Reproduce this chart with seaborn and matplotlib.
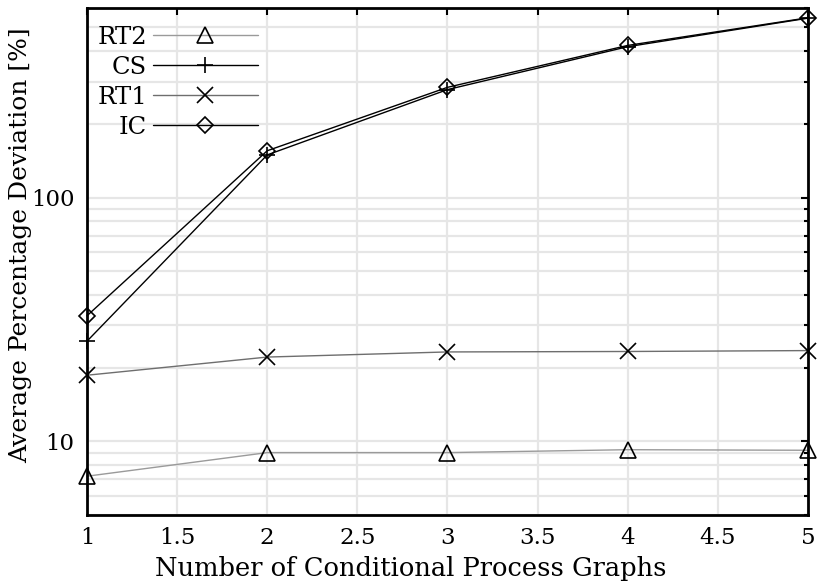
import matplotlib
matplotlib.use("Agg")
import matplotlib.pyplot as plt
import matplotlib.ticker as mticker
import seaborn as sns
import pandas as pd

# values
graphs = [1, 2, 3, 4, 5]
rt2 = [7.2, 9.0, 9.0, 9.25, 9.2]
cs = [25.8, 150, 278, 417, 546]
rt1 = [18.7, 22.2, 23.3, 23.4, 23.6]
ic = [32.8, 156, 284, 422, 548]

series = {"RT2": rt2, "CS": cs, "RT1": rt1, "IC": ic}
styles = {
    "RT2": dict(color="#9a9a9a", marker="^", ms=11),
    "CS": dict(color="black", marker="+", ms=12),
    "RT1": dict(color="#6e6e6e", marker="x", ms=11),
    "IC": dict(color="black", marker="D", ms=8.5),
}

sns.set_style("white")
plt.rcParams["font.family"] = ["DejaVu Serif"]
plt.rcParams["text.color"] = "black"
plt.rcParams["axes.labelcolor"] = "black"

fig = plt.figure(figsize=(8.21, 5.85), dpi=100)
ax = fig.add_axes([0.106, 0.12, 0.878, 0.866])

handles = []
for name, vals in series.items():
    df = pd.DataFrame({"x": graphs, "y": vals})
    st = styles[name]
    sns.lineplot(data=df, x="x", y="y", ax=ax, color=st["color"], lw=1.0,
                 marker=st["marker"], markersize=st["ms"], markerfacecolor="none",
                 markeredgecolor="black", markeredgewidth=1.2, clip_on=False)
    handles.append(ax.lines[-1])

ax.set_yscale("log")
ax.set_xlim(1, 5)
ax.set_ylim(5, 600)
ax.xaxis.set_major_locator(mticker.MultipleLocator(0.5))
ax.xaxis.set_major_formatter(mticker.FormatStrFormatter("%g"))
ax.yaxis.set_major_locator(mticker.LogLocator(base=10))
ax.yaxis.set_major_formatter(mticker.FuncFormatter(lambda v, p: "%d" % v))
ax.yaxis.set_minor_locator(mticker.LogLocator(base=10, subs=range(2, 10)))
ax.yaxis.set_minor_formatter(mticker.NullFormatter())

ax.grid(True, which="major", color="#e6e6e6", lw=1.6)
ax.grid(True, which="minor", axis="y", color="#e6e6e6", lw=1.6)
ax.set_axisbelow(True)

for sp in ax.spines.values():
    sp.set_color("black")
    sp.set_linewidth(2)
ax.tick_params(which="both", direction="in", top=True, right=True,
               labelsize=16.5, colors="black")
ax.tick_params(which="major", length=5, width=1.5, pad=9)
ax.tick_params(which="minor", length=3, width=1.5)

ax.set_xlabel("Number of Conditional Process Graphs", fontsize=18.5)
ax.set_ylabel("Average Percentage Deviation [%]", fontsize=18)
ax.xaxis.set_label_coords(0.449, -0.082)
ax.yaxis.set_label_coords(-0.076, 0.533)

ax.legend(handles, list(series.keys()), loc="upper left", frameon=False,
          markerfirst=False, fontsize=17.5, handlelength=4.3, handletextpad=0.25,
          labelspacing=0.29, borderaxespad=0.0, borderpad=0.3,
          bbox_to_anchor=(0.004, 0.98))

fig.savefig("out.png", dpi=100)
